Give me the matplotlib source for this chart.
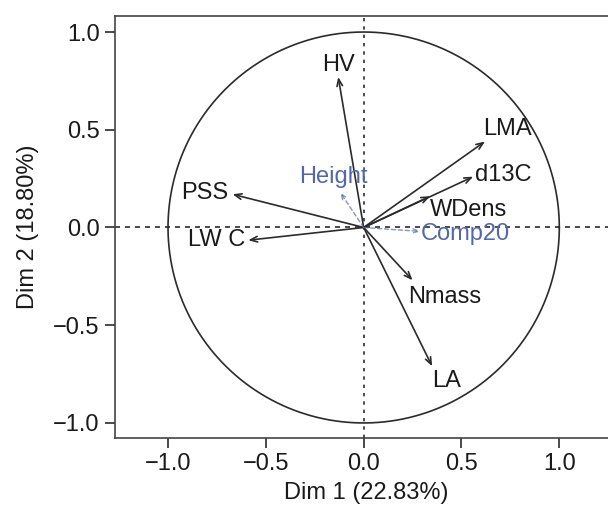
import numpy as np
import matplotlib
matplotlib.use("Agg")
import matplotlib.pyplot as plt

# active variables (Dim 1, Dim 2 coordinates)
act_names = ["HV", "LMA", "d13C", "WDens", "PSS", "LW C", "Nmass", "LA"]
act_x = [-0.13, 0.62, 0.56, 0.34, -0.67, -0.59, 0.25, 0.35]
act_y = [0.77, 0.44, 0.26, 0.16, 0.17, -0.065, -0.27, -0.71]

# supplementary variables
sup_names = ["Height", "Comp20"]
sup_x = [-0.12, 0.29]
sup_y = [0.18, -0.02]

xlabel = "Dim 1 (22.83%)"
ylabel = "Dim 2 (18.80%)"
ticks = [-1.0, -0.5, 0.0, 0.5, 1.0]

plt.rcParams['font.family'] = ['Liberation Sans', 'DejaVu Sans']

fig = plt.figure(figsize=(6.08, 5.18), dpi=100)
ax = fig.add_axes([115 / 608, 80 / 518, (618 - 115) / 608, (438 - 16) / 518])
ax.set_xlim(-1.271, 1.30)
ax.set_ylim(-1.077, 1.082)

dark = "#2b2b2b"
blue = "#5468a8"
fs = 17

t = np.linspace(0, 2 * np.pi, 400)
ax.plot(np.cos(t), np.sin(t), color=dark, lw=1.2)
ax.axhline(0, color=dark, lw=1.2, ls=(0, (3, 3)))
ax.axvline(0, color=dark, lw=1.2, ls=(0, (2, 3)))

# label placement: (dx, dy) in points, ha, va
act_lab = [(0, 1, "center", "bottom"), (-1, 1, "left", "bottom"), (1, 1, "left", "center"),
           (0, -2, "left", "top"), (-3, 1, "right", "center"), (-2, 0, "right", "center"),
           (-3, -4, "left", "top"), (0, -3, "left", "top")]
sup_lab = [(-5, 3, "center", "bottom"), (0, -2, "left", "center")]

for name, x, y, (dx, dy, ha, va) in zip(act_names, act_x, act_y, act_lab):
    ax.annotate("", xy=(x, y), xytext=(0, 0),
                arrowprops=dict(arrowstyle="->,head_length=0.5,head_width=0.2",
                                color=dark, lw=1.2, shrinkA=0, shrinkB=0))
    ax.annotate(name, xy=(x, y), xytext=(dx, dy), textcoords="offset points",
                ha=ha, va=va, fontsize=fs, color="#1a1a1a")

for name, x, y, (dx, dy, ha, va) in zip(sup_names, sup_x, sup_y, sup_lab):
    ax.annotate("", xy=(x, y), xytext=(0, 0),
                arrowprops=dict(arrowstyle="->,head_length=0.4,head_width=0.15",
                                color=blue, lw=1.0, ls=(0, (3, 2)), shrinkA=0, shrinkB=0,
                                alpha=0.7))
    ax.annotate(name, xy=(x, y), xytext=(dx, dy), textcoords="offset points",
                ha=ha, va=va, fontsize=fs, color=blue)

ax.set_xticks(ticks)
ax.set_yticks(ticks)
ax.set_xticklabels(["\u22121.0", "\u22120.5", "0.0", "0.5", "1.0"])
ax.set_yticklabels(["\u22121.0", "\u22120.5", "0.0", "0.5", "1.0"])
ax.tick_params(direction="out", length=7, width=1.2, color=dark, labelsize=fs,
               labelcolor="#1a1a1a", pad=4)
for s in ax.spines.values():
    s.set_linewidth(1.2)
    s.set_color("#444444")
ax.set_xlabel(xlabel, fontsize=fs, color="#1a1a1a", labelpad=5)
ax.set_ylabel(ylabel, fontsize=fs, color="#1a1a1a", labelpad=10)

fig.savefig("out.png", dpi=100)
